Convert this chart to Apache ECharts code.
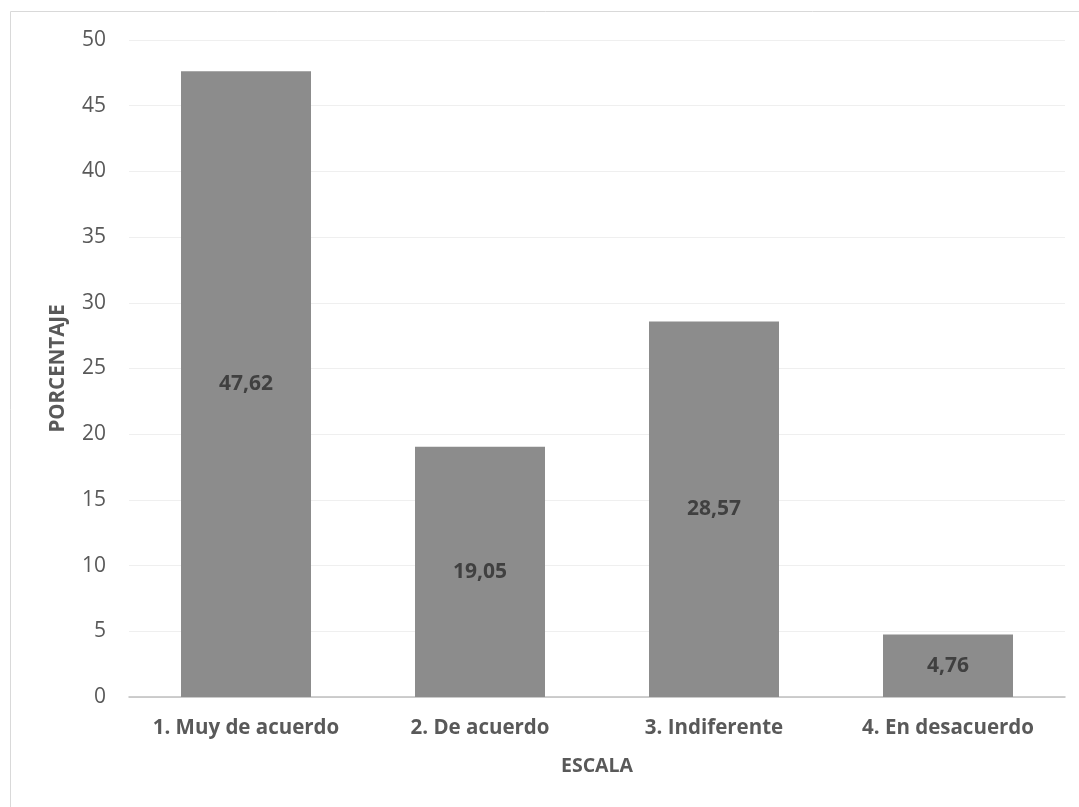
<!DOCTYPE html>
<html>
<head>
<meta charset="utf-8">
<script src="https://cdn.jsdelivr.net/npm/echarts@6/dist/echarts.min.js"></script>
<style>
html,body{margin:0;padding:0;background:#fff;}
#c{width:1079px;height:807px;}
</style>
</head>
<body>
<div id="c"></div>
<script>
const categories = ['1. Muy de acuerdo', '2. De acuerdo', '3. Indiferente', '4. En desacuerdo'];
const values = [47.62, 19.05, 28.57, 4.76];
const yTicks = [0, 5, 10, 15, 20, 25, 30, 35, 40, 45, 50];

const chart = echarts.init(document.getElementById('c'), null, {renderer: 'canvas'});
const font = '"Open Sans", sans-serif';
chart.setOption({
  animation: false,
  textStyle: {fontFamily: font},
  graphic: [{
    type: 'rect',
    shape: {x: 10.5, y: 11.5, width: 1100, height: 900},
    style: {fill: 'none', stroke: '#d9d9d9', lineWidth: 1},
    silent: true
  }],
  grid: {left: 129, right: 14, top: 40, bottom: 110, containLabel: false},
  xAxis: {
    type: 'category',
    data: categories,
    name: 'ESCALA',
    nameLocation: 'middle',
    nameGap: 59,
    nameTextStyle: {color: '#595959', fontSize: 19.5, fontWeight: 'bold', fontFamily: font},
    axisLine: {lineStyle: {color: '#bfbfbf', width: 1.5}},
    axisTick: {show: false},
    axisLabel: {color: '#595959', fontSize: 20.5, fontWeight: 'bold', margin: 21, fontFamily: font, interval: 0, hideOverlap: false}
  },
  yAxis: {
    type: 'value',
    min: yTicks[0],
    max: yTicks[yTicks.length - 1],
    interval: 5,
    name: 'PORCENTAJE',
    nameLocation: 'middle',
    nameGap: 60,
    nameTextStyle: {color: '#595959', fontSize: 20.5, fontWeight: 'bold', fontFamily: font},
    axisLine: {show: false},
    axisTick: {show: false},
    axisLabel: {color: '#595959', fontSize: 21, margin: 23, fontFamily: font},
    splitLine: {lineStyle: {color: '#efefef', width: 1}}
  },
  series: [{
    type: 'bar',
    data: values,
    barWidth: 130,
    itemStyle: {color: '#8c8c8c'},
    label: {
      show: true,
      position: 'inside',
      color: '#404040',
      fontSize: 21,
      fontWeight: 'bold',
      fontFamily: font,
      formatter: p => p.value.toFixed(2).replace('.', ',')
    }
  }]
});
</script>
</body>
</html>
